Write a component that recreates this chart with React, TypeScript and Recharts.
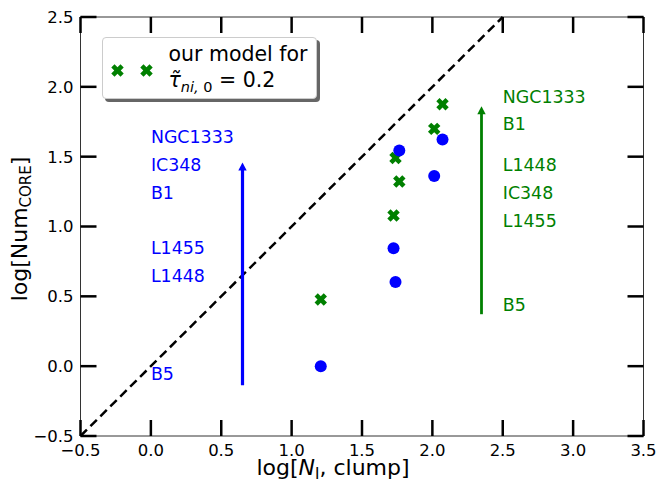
import React from 'react';
import { ScatterChart, Scatter, XAxis, YAxis, ReferenceLine } from 'recharts';

// clump column density (log) shared by both sets of points
const clumpLogN = [1.207, 1.724, 1.738, 1.765, 2.013, 2.072];
const observedLogCores = [0.0, 0.845, 0.602, 1.544, 1.362, 1.623];
const modelLogCores = [0.477, 1.079, 1.491, 1.322, 1.699, 1.875];

// region name labels next to the arrows
const blueNames = ['NGC1333', 'IC348', 'B1', 'L1455', 'L1448', 'B5'];
const blueNameY = [1.646, 1.444, 1.24, 0.847, 0.649, -0.052];
const blueNameX = 0.0;
const greenNames = ['NGC1333', 'B1', 'L1448', 'IC348', 'L1455', 'B5'];
const greenNameY = [1.93, 1.737, 1.439, 1.24, 1.04, 0.437];
const greenNameX = 2.5;

const blueArrow = { x: 0.651, from: -0.136, to: 1.458 };
const greenArrow = { x: 2.349, from: 0.372, to: 1.861 };
const oneToOne = [-0.5, 2.5];

const xTicks = [-0.5, 0, 0.5, 1, 1.5, 2, 2.5, 3, 3.5];
const yTicks = [-0.5, 0, 0.5, 1, 1.5, 2, 2.5];
const xDomain = [-0.5, 3.5];
const yDomain = [-0.5, 2.5];

const BLUE = '#0000ff';
const GREEN = '#008000';
const FONT = 'DejaVu Sans, sans-serif';

// chart box
const W = 658;
const H = 484;
const M_TOP = 17;
const M_RIGHT = 14.5;
const Y_AXIS_W = 80.5;
const X_AXIS_H = 48;

const observed = clumpLogN.map((x, i) => ({ x, y: observedLogCores[i] }));
const model = clumpLogN.map((x, i) => ({ x, y: modelLogCores[i] }));
const blueLabels = blueNames.map((name, i) => ({ x: blueNameX, y: blueNameY[i], name }));
const greenLabels = greenNames.map((name, i) => ({ x: greenNameX, y: greenNameY[i], name }));

const fmt = (v: number) => (v < 0 ? `\u2212${Math.abs(v).toFixed(1)}` : v.toFixed(1));

// filled "X" marker (plus sign rotated 45deg)
const xPath = (cx: number, cy: number, a = 6.5, w = 2.3) => {
  const pts = [
    [-w, -a], [w, -a], [w, -w], [a, -w], [a, w], [w, w],
    [w, a], [-w, a], [-w, w], [-a, w], [-a, -w], [-w, -w],
  ];
  const c = Math.SQRT1_2;
  return pts
    .map(([px, py], i) => {
      const rx = (px - py) * c + cx;
      const ry = (px + py) * c + cy;
      return `${i === 0 ? 'M' : 'L'}${rx.toFixed(2)},${ry.toFixed(2)}`;
    })
    .join(' ') + ' Z';
};

const XMarker = (props: any) => <path d={xPath(props.cx, props.cy)} fill={GREEN} />;
const Dot = (props: any) => <circle cx={props.cx} cy={props.cy} r={6} fill={BLUE} />;

const nameLabel = (color: string) => (props: any) => (
  <text x={props.cx} y={props.cy} dy={6.3} fill={color} fontSize={17.4} fontFamily={FONT}>
    {props.payload.name}
  </text>
);

const arrowShape = (color: string, width: number) => (props: any) => {
  const { x1, y1, x2, y2 } = props;
  const tipY = Math.min(y1, y2);
  const baseY = Math.max(y1, y2);
  const headLen = 8;
  const half = 4.2;
  return (
    <g>
      <line x1={x1} y1={baseY} x2={x2} y2={tipY + headLen - 1} stroke={color} strokeWidth={width} />
      <polygon
        points={`${x1},${tipY} ${x1 - half},${tipY + headLen} ${x1 + half},${tipY + headLen}`}
        fill={color}
      />
    </g>
  );
};

// plot frame drawn from a segment spanning the whole domain
const frameShape = (props: any) => {
  const { x1, y1, x2, y2 } = props;
  return (
    <rect
      x={Math.min(x1, x2)}
      y={Math.min(y1, y2)}
      width={Math.abs(x2 - x1)}
      height={Math.abs(y2 - y1)}
      fill="none"
      stroke="#333"
      strokeWidth={1}
    />
  );
};

// inward tick marks on all four sides (matplotlib direction='in')
const TICK_LEN = 16;
const TICK_W = 2.5;

const TickOverlay = () => {
  const left = Y_AXIS_W;
  const right = W - M_RIGHT;
  const top = M_TOP;
  const bot = H - X_AXIS_H;
  const px = (v: number) => left + ((v - xDomain[0]) / (xDomain[1] - xDomain[0])) * (right - left);
  const py = (v: number) => bot - ((v - yDomain[0]) / (yDomain[1] - yDomain[0])) * (bot - top);
  return (
    <svg
      width={W}
      height={H}
      style={{ position: 'absolute', left: 0, top: 0, pointerEvents: 'none', zIndex: 2 }}
    >
      {xTicks.map((t) => (
        <g key={`x${t}`} stroke="#000" strokeWidth={TICK_W}>
          <line x1={px(t)} x2={px(t)} y1={top} y2={top + TICK_LEN} />
          <line x1={px(t)} x2={px(t)} y1={bot} y2={bot - TICK_LEN} />
        </g>
      ))}
      {yTicks.map((t) => (
        <g key={`y${t}`} stroke="#000" strokeWidth={TICK_W}>
          <line x1={left} x2={left + TICK_LEN} y1={py(t)} y2={py(t)} />
          <line x1={right} x2={right - TICK_LEN} y1={py(t)} y2={py(t)} />
        </g>
      ))}
    </svg>
  );
};

const tickStyle = { fill: '#000', fontSize: 16.5, fontFamily: FONT };

const XLabel = () => (
  <text x={333} y={475} textAnchor="middle" fontSize={22} fontFamily={FONT} fill="#000">
    log[<tspan fontStyle="italic">N</tspan>
    <tspan fontSize={15} dy={4}>I</tspan>
    <tspan dy={-4}>, clump]</tspan>
  </text>
);

const YLabel = () => (
  <text
    x={0}
    y={0}
    transform="translate(27,229) rotate(-90)"
    textAnchor="middle"
    fontSize={22}
    fontFamily={FONT}
    fill="#000"
  >
    log[Num<tspan fontSize={15} dy={4}>CORE</tspan>
    <tspan dy={-4}>]</tspan>
  </text>
);

export default function App() {
  return (
    <div style={{ position: 'absolute', left: 0, top: 0, width: W, height: H, background: '#fff' }}>
      <ScatterChart width={W} height={H} margin={{ top: M_TOP, right: M_RIGHT, bottom: 0, left: 0 }}>
        <XAxis
          type="number"
          dataKey="x"
          domain={xDomain}
          ticks={xTicks}
          interval={0}
          height={X_AXIS_H}
          tickSize={0}
          tickMargin={8}
          tickLine={false}
          tick={tickStyle}
          tickFormatter={fmt}
          axisLine={false}
          label={<XLabel />}
        />
        <YAxis
          type="number"
          dataKey="y"
          domain={yDomain}
          ticks={yTicks}
          interval={0}
          width={Y_AXIS_W}
          tickSize={0}
          tickMargin={7}
          tickLine={false}
          tick={tickStyle}
          tickFormatter={fmt}
          axisLine={false}
          label={<YLabel />}
        />

        <ReferenceLine
          segment={[
            { x: xDomain[0], y: yDomain[0] },
            { x: xDomain[1], y: yDomain[1] },
          ]}
          shape={frameShape}
        />

        <ReferenceLine
          segment={[
            { x: oneToOne[0], y: oneToOne[0] },
            { x: oneToOne[1], y: oneToOne[1] },
          ]}
          stroke="#000"
          strokeWidth={2.5}
          strokeDasharray="9 5"
        />
        <ReferenceLine
          segment={[
            { x: blueArrow.x, y: blueArrow.from },
            { x: blueArrow.x, y: blueArrow.to },
          ]}
          shape={arrowShape(BLUE, 3.2)}
        />
        <ReferenceLine
          segment={[
            { x: greenArrow.x, y: greenArrow.from },
            { x: greenArrow.x, y: greenArrow.to },
          ]}
          shape={arrowShape(GREEN, 2.8)}
        />

        <Scatter data={blueLabels} shape={nameLabel(BLUE)} isAnimationActive={false} />
        <Scatter data={greenLabels} shape={nameLabel(GREEN)} isAnimationActive={false} />
        <Scatter data={model} shape={<XMarker />} isAnimationActive={false} />
        <Scatter data={observed} shape={<Dot />} isAnimationActive={false} />
      </ScatterChart>

      <TickOverlay />

      <div
        style={{
          position: 'absolute',
          left: 101.5,
          top: 36.5,
          width: 213,
          height: 60.5,
          background: '#fff',
          border: '1px solid #ccc',
          borderRadius: 4,
          boxShadow: '3px 3px 0 #666',
          fontFamily: FONT,
          color: '#000',
          zIndex: 3,
        }}
      >
        <svg width={60} height={60} style={{ position: 'absolute', left: 0, top: 0 }}>
          <path d={xPath(14.5, 32.5)} fill={GREEN} />
          <path d={xPath(43.5, 32.5)} fill={GREEN} />
        </svg>
        <div style={{ position: 'absolute', left: 66, top: 3, fontSize: 20.5, lineHeight: '26px', whiteSpace: 'nowrap' }}>
          <div>our model for</div>
          <div>
            <span style={{ fontStyle: 'italic' }}>{'\u03c4\u0303'}</span>
            <span style={{ fontStyle: 'italic', fontSize: 14.5, position: 'relative', top: 5 }}>ni, </span>
            <span style={{ fontSize: 14.5, position: 'relative', top: 5 }}>0</span>
            <span> = 0.2</span>
          </div>
        </div>
      </div>
    </div>
  );
}
